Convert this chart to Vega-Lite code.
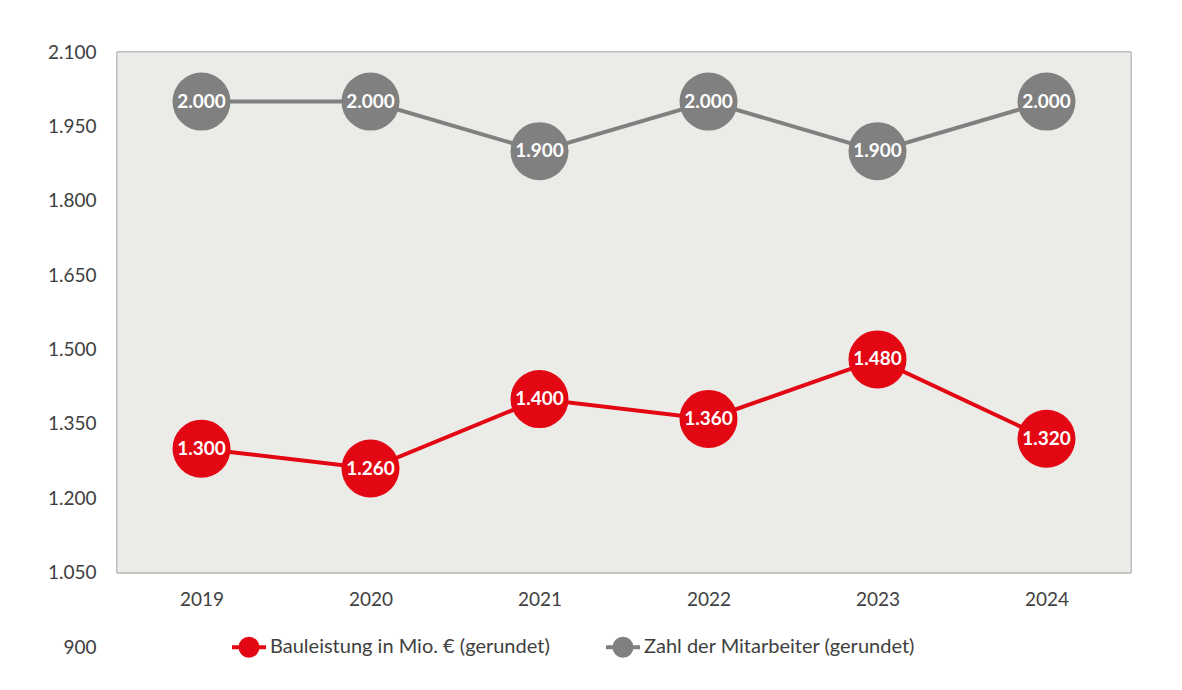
{
  "$schema": "https://vega.github.io/schema/vega-lite/v6.json",
  "width": 1014,
  "height": 595,
  "autosize": {"type": "none"},
  "padding": {"left": 117, "top": 52, "right": 51, "bottom": 43},
  "background": "white",
  "config": {
    "view": {"stroke": null},
    "font": "Lato",
    "locale": {"number": {"decimal": ",", "thousands": ".", "grouping": [3], "currency": ["", " €"]}}
  },
  "data": {
    "values": [
      {"year": 2019, "series": "Bauleistung in Mio. € (gerundet)", "value": 1300},
      {"year": 2020, "series": "Bauleistung in Mio. € (gerundet)", "value": 1260},
      {"year": 2021, "series": "Bauleistung in Mio. € (gerundet)", "value": 1400},
      {"year": 2022, "series": "Bauleistung in Mio. € (gerundet)", "value": 1360},
      {"year": 2023, "series": "Bauleistung in Mio. € (gerundet)", "value": 1480},
      {"year": 2024, "series": "Bauleistung in Mio. € (gerundet)", "value": 1320},
      {"year": 2019, "series": "Zahl der Mitarbeiter (gerundet)", "value": 2000},
      {"year": 2020, "series": "Zahl der Mitarbeiter (gerundet)", "value": 2000},
      {"year": 2021, "series": "Zahl der Mitarbeiter (gerundet)", "value": 1900},
      {"year": 2022, "series": "Zahl der Mitarbeiter (gerundet)", "value": 2000},
      {"year": 2023, "series": "Zahl der Mitarbeiter (gerundet)", "value": 1900},
      {"year": 2024, "series": "Zahl der Mitarbeiter (gerundet)", "value": 2000}
    ]
  },
  "layer": [
    {
      "mark": {"type": "rect", "fill": "#ebebe7", "stroke": "#bfbfbf", "strokeWidth": 1},
      "encoding": {
        "x": {"datum": 2018.5, "type": "quantitative", "scale": {"domain": [2018.5, 2024.5]}},
        "x2": {"datum": 2024.5},
        "y": {"datum": 1050, "type": "quantitative", "scale": {"domain": [900, 2100]}},
        "y2": {"datum": 2100}
      }
    },
    {
      "mark": {"type": "line", "strokeWidth": 4},
      "encoding": {
        "x": {
          "field": "year", "type": "quantitative",
          "scale": {"domain": [2018.5, 2024.5], "nice": false, "zero": false},
          "axis": {
            "title": null, "values": [2019, 2020, 2021, 2022, 2023, 2024], "format": "d",
            "grid": false, "ticks": false, "domain": true, "domainColor": "#c4c4c4", "domainWidth": 2,
            "offset": -75, "labelPadding": 18, "labelFontSize": 19, "labelColor": "#404040", "labelFont": "Lato"
          }
        },
        "y": {
          "field": "value", "type": "quantitative",
          "scale": {"domain": [900, 2100], "nice": false, "zero": false},
          "axis": {
            "title": null, "values": [900, 1050, 1200, 1350, 1500, 1650, 1800, 1950, 2100], "format": ",d",
            "grid": false, "ticks": false, "domain": false, "labelPadding": 21,
            "labelFontSize": 19, "labelColor": "#404040", "labelFont": "Lato"
          }
        },
        "color": {
          "field": "series", "type": "nominal",
          "scale": {"domain": ["Bauleistung in Mio. € (gerundet)", "Zahl der Mitarbeiter (gerundet)"], "range": ["#e30613", "#808080"]},
          "legend": {
            "title": null, "orient": "none", "direction": "horizontal", "legendX": 113, "legendY": 576,
            "symbolType": "M-1,0H1M0.5,0A0.5,0.5,0,1,1,-0.5,0A0.5,0.5,0,1,1,0.5,0",
            "symbolSize": 1156, "labelFontSize": 20, "labelColor": "#404040", "labelFont": "Lato",
            "labelOffset": 2, "columnPadding": 48, "labelLimit": 400,
            "encode": {"symbols": {"update": {"fill": {"scale": "color", "field": "value"}, "stroke": {"scale": "color", "field": "value"}, "strokeWidth": {"value": 4}}}}
          }
        }
      }
    },
    {
      "mark": {"type": "point", "filled": true, "opacity": 1, "size": 3364},
      "encoding": {
        "x": {"field": "year", "type": "quantitative"},
        "y": {"field": "value", "type": "quantitative"},
        "color": {"field": "series", "type": "nominal"}
      }
    },
    {
      "mark": {"type": "text", "color": "white", "fontWeight": "bold", "fontSize": 19, "font": "Lato"},
      "encoding": {
        "x": {"field": "year", "type": "quantitative"},
        "y": {"field": "value", "type": "quantitative"},
        "text": {"field": "value", "type": "quantitative", "format": ",d"}
      }
    }
  ]
}
